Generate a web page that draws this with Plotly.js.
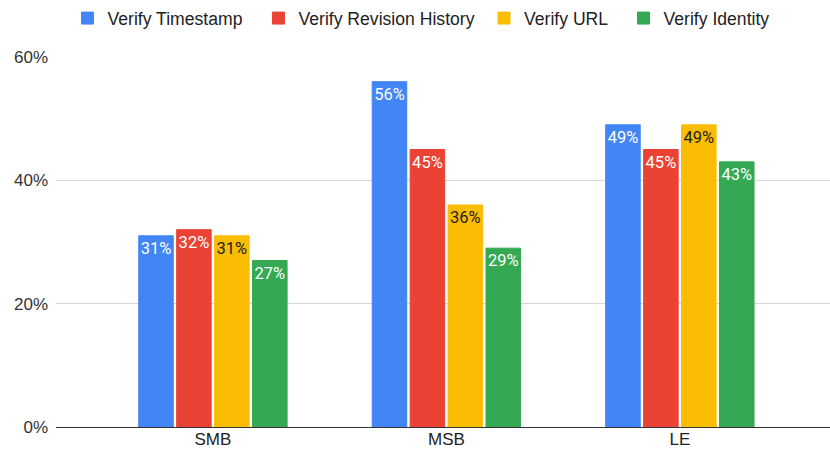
<!DOCTYPE html>
<html>
<head>
<meta charset="utf-8">
<script src="https://cdn.plot.ly/plotly-3.0.1.min.js"></script>
<style>
  html, body { margin: 0; padding: 0; background: #fff; }
  #chart { width: 830px; height: 452px; }
</style>
</head>
<body>
<div id="chart"></div>
<script>
// Segments shown on the x axis
const segments = ['SMB', 'MSB', 'LE'];

// Share of respondents (percent) per verification step, one value per segment
const verifyTimestamp = [31, 56, 49];
const verifyRevisionHistory = [32, 45, 45];
const verifyUrl = [31, 36, 49];
const verifyIdentity = [27, 29, 43];

const seriesNames = ['Verify Timestamp', 'Verify Revision History', 'Verify URL', 'Verify Identity'];
const seriesValues = [verifyTimestamp, verifyRevisionHistory, verifyUrl, verifyIdentity];
const seriesColors = ['#4285F4', '#EA4335', '#FBBC04', '#34A853'];
const labelColors = ['#ffffff', '#ffffff', '#222222', '#ffffff'];

// Each series gets its own legend box so the entries can be spaced freely
const legendIds = ['legend', 'legend2', 'legend3', 'legend4'];
const legendX = [0.0149, 0.2616, 0.5530, 0.7332];

const traces = seriesNames.map((name, i) => ({
  type: 'bar',
  name: name,
  legend: legendIds[i],
  x: segments,
  y: seriesValues[i].map(v => v / 100),
  text: seriesValues[i].map(v => v + '%'),
  textposition: 'inside',
  insidetextanchor: 'end',
  constraintext: 'none',
  textangle: 0,
  textfont: { family: 'Roboto, sans-serif', size: 16.5, color: labelColors[i] },
  marker: { color: seriesColors[i], line: { color: seriesColors[i], width: 1 } },
  hoverinfo: 'skip'
}));

const layout = {
  width: 830,
  height: 452,
  margin: { l: 56, r: 0, t: 54, b: 25 },
  paper_bgcolor: '#ffffff',
  plot_bgcolor: '#ffffff',
  barmode: 'group',
  bargap: 0.35,
  bargroupgap: 0.09,
  showlegend: true,
  xaxis: {
    type: 'category',
    range: [-0.672, 2.643],
    showgrid: false,
    showline: false,
    ticks: '',
    tickfont: { family: 'Liberation Sans, Arial, sans-serif', size: 17, color: '#222222' },
    fixedrange: true
  },
  yaxis: {
    range: [0, 0.6],
    dtick: 0.2,
    tickformat: '.0%',
    showgrid: true,
    gridcolor: '#d6d6d6',
    gridwidth: 1,
    zeroline: true,
    zerolinecolor: '#333333',
    zerolinewidth: 1,
    showline: false,
    ticks: '',
    ticklabelstandoff: 7,
    tickfont: { family: 'Liberation Sans, Arial, sans-serif', size: 17, color: '#333333' },
    fixedrange: true
  }
};

legendIds.forEach((id, i) => {
  layout[id] = {
    orientation: 'h',
    x: legendX[i],
    xanchor: 'left',
    y: 1.105,
    yanchor: 'middle',
    font: { family: 'Liberation Sans, Arial, sans-serif', size: 17.6, color: '#222222' },
    bgcolor: 'rgba(0,0,0,0)'
  };
});

Plotly.newPlot('chart', traces, layout, { displayModeBar: false, staticPlot: true });
</script>
</body>
</html>
